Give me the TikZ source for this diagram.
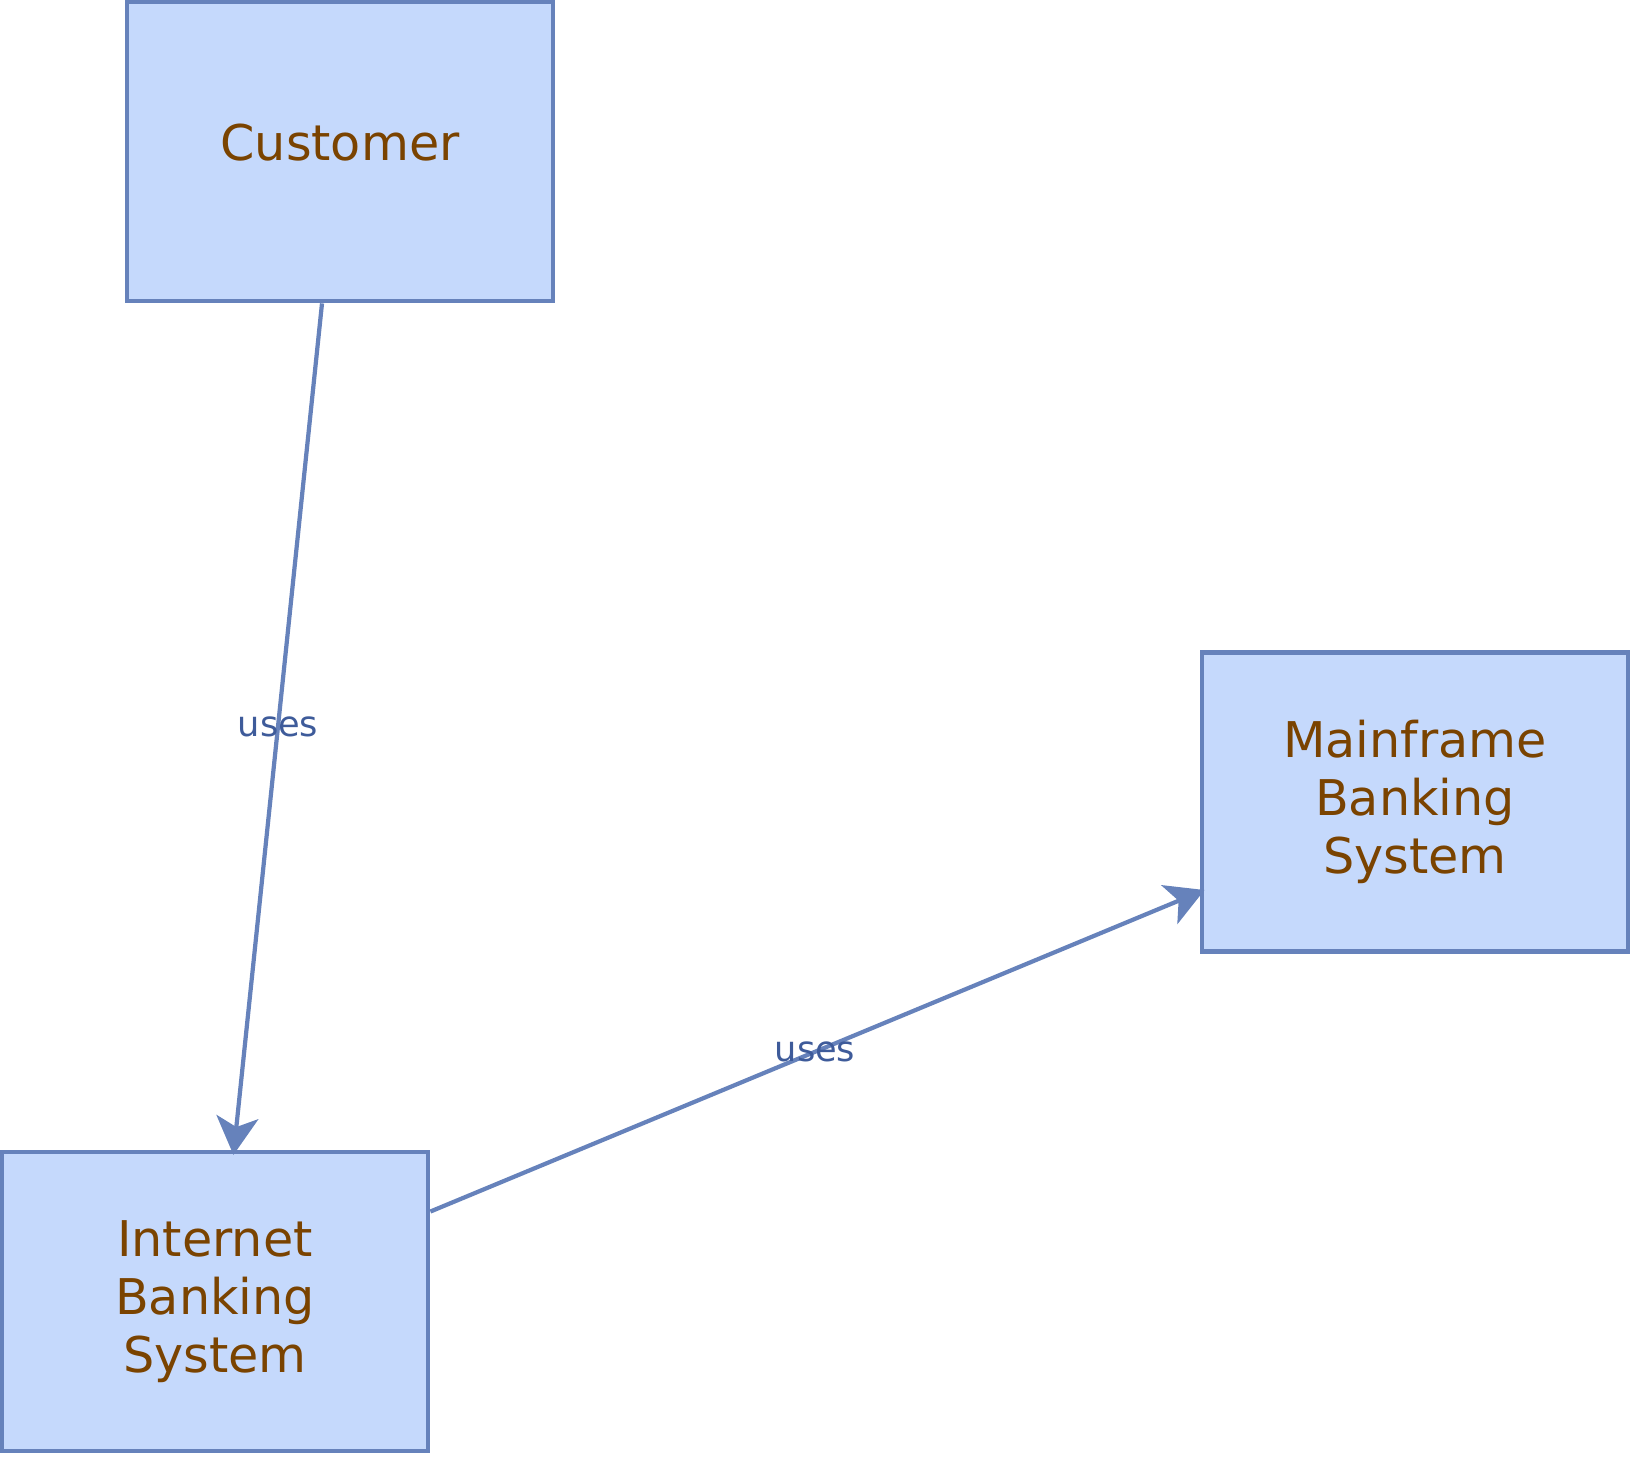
\documentclass[tikz,border=0pt]{standalone}
\usepackage{fontspec}
\setmainfont{DejaVu Sans}
\usetikzlibrary{arrows.meta,calc,positioning}
\definecolor{boxfill}{HTML}{C5D9FC}
\definecolor{boxline}{HTML}{6682BB}
\definecolor{boxtext}{HTML}{7A4300}
\definecolor{reltext}{HTML}{3E5B9A}
\tikzset{system/.style={
            draw=boxline,
            fill=boxfill,
            line width=1.3pt,
            inner sep=0pt,
            minimum width=4.26cm,
            minimum height=2.99cm,
            align=center,
            text=boxtext,
            font=\fontsize{14}{16.5}\selectfont
        },
        rel/.style={
            draw=boxline,
            line width=1.2pt,
            shorten >=-1.5pt,
            -{Stealth[length=0.38cm,width=0.42cm,inset=0.1cm]}
        },
        rellabel/.style={
            text=reltext,
            font=\fontsize{10}{12}\selectfont
        }
    }

\begin{document}
\begin{tikzpicture}[x=0.01cm,y=-0.01cm]
        \useasboundingbox (0,0) rectangle (1631,1456);

        \node[system] at (340,151.5) (customer) {};
        \node[text=boxtext,font=\fontsize{14}{16.5}\selectfont] at (340,143) (customertext) {Customer};
        \node[system] at (215,1301.5) (ibs) {Internet\\Banking\\System};
        \node[system] at (1415,802) (mainframe) {Mainframe\\Banking\\System};

        \draw[rel] ($(customer.south)+(-18,0)$) -- ($(ibs.north)+(19,0)$)
            node[rellabel,midway] {uses};
        \draw[rel] ($(ibs.east)+(0,-90)$) -- ($(mainframe.west)+(0,90)$)
            node[rellabel,midway] {uses};

    \end{tikzpicture}
\end{document}
